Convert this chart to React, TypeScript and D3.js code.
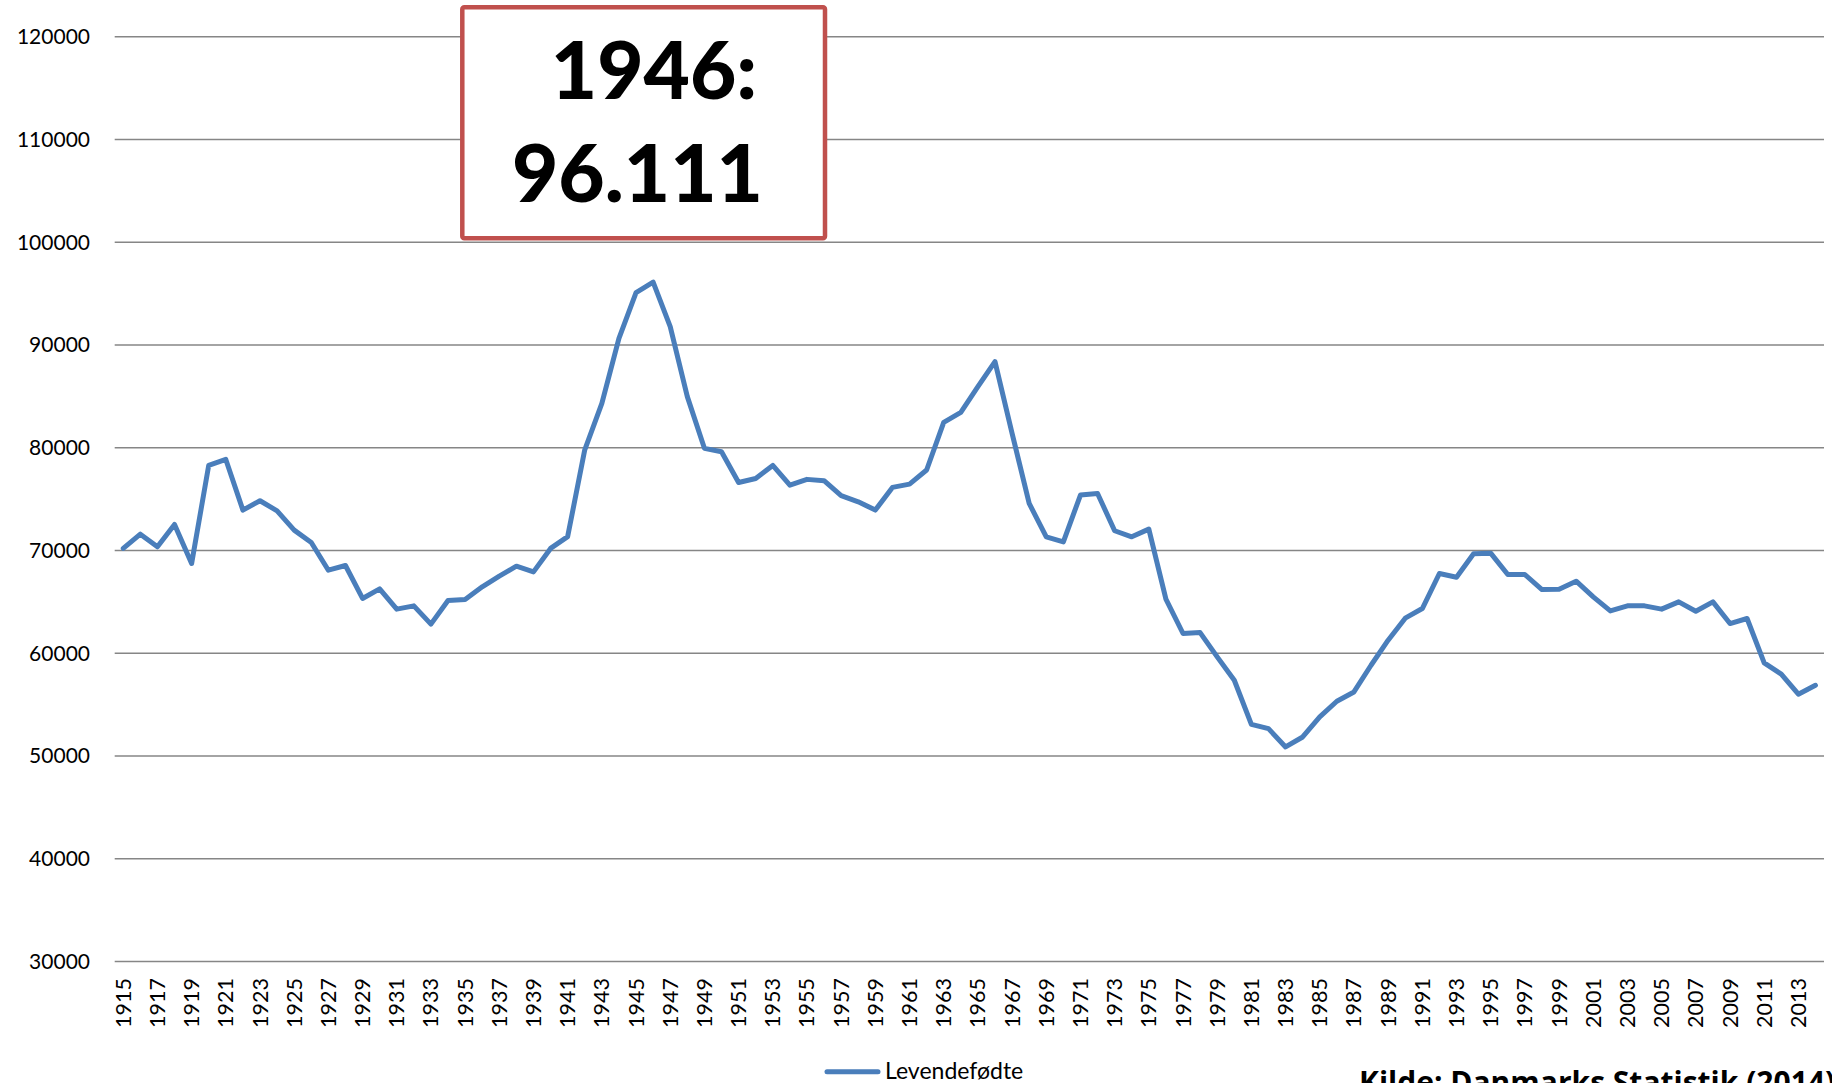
import React from "react";
import * as d3 from "d3";

// levendefødte i Danmark, 1915-2014
const startYear = 1915;
const births = [
  70200, 71590, 70360, 72530, 68730, 78280, 78860, 73930, 74840, 73860,
  71980, 70780, 68080, 68540, 65330, 66270, 64290, 64610, 62830, 65130,
  65230, 66460, 67500, 68470, 67920, 70200, 71350, 79800, 84320, 90650,
  95100, 96111, 91790, 84970, 79940, 79610, 76620, 77010, 78280, 76360,
  76920, 76790, 75330, 74740, 73930, 76140, 76460, 77830, 82470, 83440,
  85940, 88380, 81400, 74580, 71330, 70840, 75390, 75550, 71920, 71330,
  72080, 65260, 61920, 62010, 59640, 57370, 53080, 52660, 50880, 51850,
  53800, 55330, 56230, 58830, 61270, 63410, 64350, 67760, 67400, 69680,
  69740, 67660, 67660, 66200, 66230, 67010, 65490, 64120, 64610, 64610,
  64290, 65000, 64090, 65000, 62890, 63380, 59060, 57960, 56010, 56880,
];
const years = births.map((_, i) => startYear + i);
const yTicks = [30000, 40000, 50000, 60000, 70000, 80000, 90000, 100000, 110000, 120000];
const seriesName = "Levendefødte";
const calloutLines = ["1946:", "96.111"];
const sourceText = "Kilde: Danmarks Statistik (2014)";

const W = 1832;
const H = 1083;
const font = "Lato, 'Open Sans', sans-serif";

export default function App() {
  const x = d3
    .scaleBand<number>()
    .domain(years)
    .range([114.7, 1824])
    .padding(0);
  const y = d3.scaleLinear().domain([30000, 120000]).range([961.5, 36.7]);
  const cx = (yr: number) => (x(yr) as number) + x.bandwidth() / 2;

  const line = d3
    .line<number>()
    .x((_, i) => cx(years[i]))
    .y((d) => y(d));

  const labelYears = years.filter((yr) => (yr - startYear) % 2 === 0);

  return (
    <div>
      <style>{"body{margin:0;overflow:hidden;background:#fff}"}</style>
      <svg width={W} height={H} style={{ display: "block" }}>
        <rect width={W} height={H} fill="#fff" />
        <g>
          {yTicks.map((t) => (
            <g key={t}>
              <line x1={114.7} x2={1824} y1={y(t)} y2={y(t)} stroke="#868686" strokeWidth={1.6} />
              <text
                x={90}
                y={y(t)}
                dy="0.35em"
                textAnchor="end"
                fontFamily={font}
                fontSize={21}
                fill="#000"
              >
                {t}
              </text>
            </g>
          ))}
        </g>
        <g>
          {labelYears.map((yr) => (
            <text
              key={yr}
              transform={`translate(${cx(yr)},978) rotate(-90)`}
              dy="0.35em"
              textAnchor="end"
              fontFamily={font}
              fontSize={21.5}
              fill="#000"
            >
              {yr}
            </text>
          ))}
        </g>
        <path
          d={line(births) || ""}
          fill="none"
          stroke="#4A7EBB"
          strokeWidth={5}
          strokeLinejoin="round"
          strokeLinecap="round"
        />
        <g>
          <rect
            x={462.3}
            y={7.3}
            width={362.7}
            height={231}
            rx={2}
            fill="#fff"
            stroke="#C0504D"
            strokeWidth={4.5}
          />
          <text x={654} y={99} textAnchor="middle" fontFamily={font} fontWeight={900} fontSize={80} fill="#000">
            {calloutLines[0]}
          </text>
          <text x={637.5} y={202} textAnchor="middle" fontFamily={font} fontWeight={900} fontSize={80} fill="#000">
            {calloutLines[1]}
          </text>
        </g>
        <g>
          <line x1={827} x2={878} y1={1071.7} y2={1071.7} stroke="#4A7EBB" strokeWidth={5} strokeLinecap="round" />
          <text x={885} y={1078.5} fontFamily={font} fontSize={23} fill="#000">
            {seriesName}
          </text>
        </g>
        <text x={1359} y={1093} fontFamily="'Open Sans', sans-serif" fontWeight={700} fontSize={30} fill="#000">
          {sourceText}
        </text>
      </svg>
    </div>
  );
}
